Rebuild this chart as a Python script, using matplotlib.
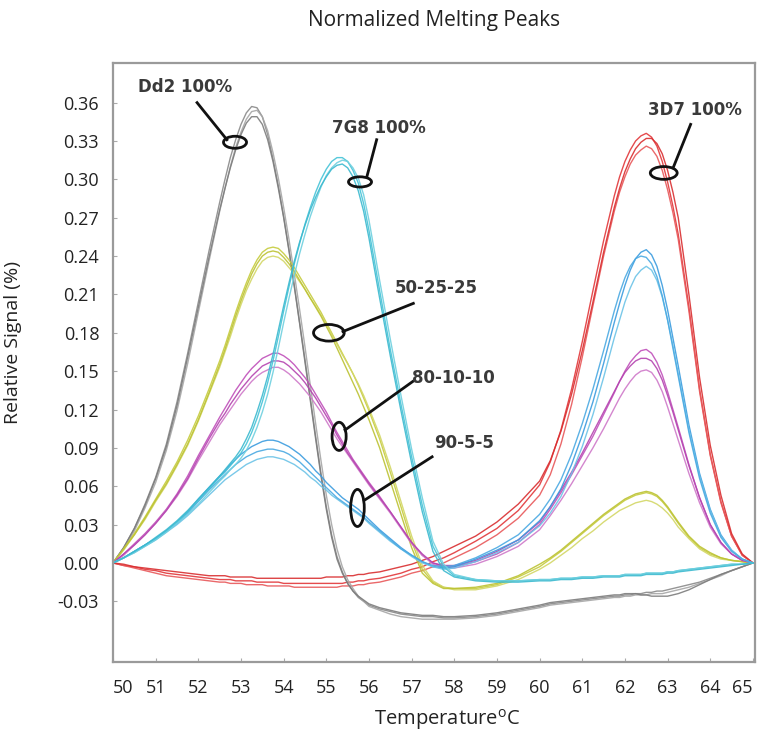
import numpy as np
import matplotlib
matplotlib.use("Agg")
import matplotlib.pyplot as plt
from matplotlib.patches import Ellipse

plt.rcParams['font.family'] = ['Open Sans', 'DejaVu Sans']
plt.rcParams['mathtext.fontset'] = 'custom'
plt.rcParams['mathtext.rm'] = 'Open Sans'

# temperature grid (deg C): finer steps around the narrow peaks
temps = np.r_[np.arange(50, 52.5, 0.25), np.arange(52.5, 56, 0.125), np.arange(56, 58, 0.25),
              np.arange(58, 60, 0.5), np.arange(60, 61.75, 0.25), np.arange(61.75, 63.25, 0.125),
              np.arange(63.25, 65.01, 0.25)]

# Dd2 100% (gray)
dd2_a = [0.000, 0.012, 0.027, 0.046, 0.067, 0.093, 0.126, 0.164, 0.204, 0.244,
         0.282, 0.300, 0.317, 0.331, 0.343, 0.352, 0.357, 0.356, 0.349, 0.335, 0.316, 0.295, 0.271, 0.245,
         0.217, 0.188, 0.159, 0.129, 0.099, 0.070, 0.044, 0.022, 0.005, -0.007, -0.016, -0.022, -0.027, -0.030,
         -0.033, -0.036, -0.038, -0.040, -0.041, -0.042, -0.042, -0.043,
         -0.043, -0.042, -0.040, -0.037,
         -0.034, -0.032, -0.031, -0.030, -0.029, -0.028, -0.027,
         -0.026, -0.026, -0.025, -0.025, -0.024, -0.024, -0.023, -0.023, -0.022, -0.022, -0.021, -0.020,
         -0.019, -0.017, -0.015, -0.012, -0.009, -0.006, -0.003, 0.000]
dd2_b = [0.000, 0.011, 0.025, 0.043, 0.063, 0.088, 0.119, 0.156, 0.196, 0.236,
         0.275, 0.293, 0.310, 0.325, 0.337, 0.347, 0.353, 0.354, 0.349, 0.338, 0.321, 0.301, 0.278, 0.253,
         0.226, 0.198, 0.169, 0.139, 0.109, 0.080, 0.053, 0.030, 0.011, -0.003, -0.013, -0.020, -0.026, -0.030,
         -0.034, -0.037, -0.040, -0.042, -0.043, -0.044, -0.044, -0.044,
         -0.044, -0.043, -0.041, -0.038,
         -0.035, -0.033, -0.032, -0.031, -0.030, -0.029, -0.028,
         -0.027, -0.027, -0.026, -0.026, -0.025, -0.025, -0.025, -0.024, -0.024, -0.024, -0.023, -0.022,
         -0.021, -0.019, -0.016, -0.013, -0.010, -0.006, -0.003, 0.000]
dd2_c = [0.000, 0.012, 0.027, 0.045, 0.066, 0.091, 0.123, 0.161, 0.200, 0.239,
         0.276, 0.293, 0.309, 0.323, 0.335, 0.344, 0.349, 0.349, 0.343, 0.331, 0.314, 0.293, 0.270, 0.244,
         0.216, 0.187, 0.157, 0.127, 0.097, 0.068, 0.042, 0.020, 0.003, -0.008, -0.016, -0.022, -0.026, -0.029,
         -0.032, -0.035, -0.037, -0.039, -0.040, -0.041, -0.041, -0.042,
         -0.042, -0.041, -0.039, -0.036,
         -0.033, -0.031, -0.030, -0.029, -0.028, -0.027, -0.026,
         -0.025, -0.025, -0.024, -0.024, -0.024, -0.025, -0.025, -0.026, -0.026, -0.026, -0.026, -0.025,
         -0.024, -0.021, -0.017, -0.013, -0.009, -0.006, -0.003, 0.000]

# 7G8 100% (cyan)
g78_a = [0.000, 0.004, 0.009, 0.014, 0.019, 0.025, 0.032, 0.040, 0.049, 0.058,
         0.067, 0.071, 0.076, 0.081, 0.086, 0.093, 0.102, 0.113, 0.126, 0.141, 0.158, 0.177, 0.197, 0.216,
         0.234, 0.250, 0.265, 0.278, 0.290, 0.300, 0.308, 0.314, 0.317, 0.317, 0.314, 0.307, 0.297, 0.281,
         0.260, 0.213, 0.167, 0.124, 0.083, 0.045, 0.013, -0.003,
         -0.010, -0.013, -0.014, -0.014,
         -0.013, -0.013, -0.012, -0.012, -0.011, -0.011, -0.010,
         -0.010, -0.010, -0.009, -0.009, -0.009, -0.009, -0.008, -0.008, -0.008, -0.008, -0.007, -0.007,
         -0.006, -0.005, -0.004, -0.003, -0.002, -0.001, -0.001, 0.000]
g78_b = [0.000, 0.004, 0.008, 0.013, 0.018, 0.024, 0.031, 0.038, 0.046, 0.055,
         0.064, 0.068, 0.073, 0.077, 0.082, 0.088, 0.096, 0.106, 0.118, 0.132, 0.149, 0.168, 0.188, 0.207,
         0.225, 0.242, 0.257, 0.271, 0.283, 0.294, 0.303, 0.309, 0.313, 0.315, 0.314, 0.309, 0.301, 0.288,
         0.268, 0.221, 0.175, 0.131, 0.089, 0.051, 0.017, -0.001,
         -0.009, -0.013, -0.014, -0.014,
         -0.013, -0.013, -0.012, -0.012, -0.011, -0.011, -0.010,
         -0.010, -0.010, -0.009, -0.009, -0.009, -0.009, -0.008, -0.008, -0.008, -0.008, -0.007, -0.007,
         -0.006, -0.005, -0.004, -0.003, -0.002, -0.001, -0.001, 0.000]
g78_c = [0.000, 0.004, 0.009, 0.014, 0.020, 0.026, 0.033, 0.041, 0.050, 0.059,
         0.068, 0.073, 0.078, 0.083, 0.089, 0.097, 0.106, 0.118, 0.131, 0.146, 0.163, 0.182, 0.201, 0.219,
         0.236, 0.251, 0.264, 0.276, 0.286, 0.295, 0.302, 0.308, 0.311, 0.312, 0.309, 0.302, 0.291, 0.275,
         0.254, 0.207, 0.162, 0.119, 0.078, 0.040, 0.009, -0.006,
         -0.011, -0.014, -0.015, -0.015,
         -0.014, -0.014, -0.013, -0.013, -0.012, -0.012, -0.011,
         -0.011, -0.011, -0.010, -0.010, -0.010, -0.010, -0.009, -0.009, -0.009, -0.009, -0.008, -0.008,
         -0.007, -0.006, -0.005, -0.004, -0.003, -0.002, -0.001, 0.000]

# 3D7 100% (red)
d37_a = [0.000, -0.002, -0.003, -0.005, -0.006, -0.008, -0.009, -0.010, -0.011, -0.012,
         -0.013, -0.013, -0.013, -0.014, -0.014, -0.014, -0.014, -0.015, -0.015, -0.015, -0.015, -0.015, -0.016, -0.016,
         -0.016, -0.016, -0.016, -0.016, -0.016, -0.016, -0.016, -0.016, -0.016, -0.016, -0.015, -0.015, -0.014, -0.014,
         -0.013, -0.012, -0.010, -0.008, -0.005, -0.003, 0.001, 0.004,
         0.008, 0.017, 0.027, 0.041,
         0.061, 0.079, 0.104, 0.136, 0.173, 0.213, 0.252,
         0.287, 0.302, 0.314, 0.323, 0.330, 0.334, 0.336, 0.333, 0.326, 0.314, 0.298, 0.279,
         0.257, 0.200, 0.136, 0.085, 0.048, 0.021, 0.006, 0.000]
d37_b = [0.000, -0.002, -0.004, -0.006, -0.008, -0.010, -0.011, -0.012, -0.013, -0.014,
         -0.015, -0.015, -0.016, -0.016, -0.016, -0.017, -0.017, -0.017, -0.017, -0.018, -0.018, -0.018, -0.018, -0.018,
         -0.019, -0.019, -0.019, -0.019, -0.019, -0.019, -0.019, -0.019, -0.019, -0.018, -0.018, -0.018, -0.017, -0.017,
         -0.016, -0.015, -0.013, -0.011, -0.008, -0.006, -0.003, 0.000,
         0.004, 0.012, 0.022, 0.035,
         0.053, 0.069, 0.093, 0.124, 0.161, 0.201, 0.240,
         0.275, 0.290, 0.302, 0.312, 0.319, 0.323, 0.326, 0.324, 0.318, 0.307, 0.292, 0.274,
         0.253, 0.197, 0.134, 0.084, 0.047, 0.021, 0.006, 0.000]
d37_c = [0.000, -0.001, -0.003, -0.004, -0.005, -0.006, -0.007, -0.008, -0.009, -0.010,
         -0.010, -0.010, -0.011, -0.011, -0.011, -0.011, -0.011, -0.012, -0.012, -0.012, -0.012, -0.012, -0.012, -0.012,
         -0.012, -0.012, -0.012, -0.012, -0.012, -0.012, -0.011, -0.011, -0.011, -0.011, -0.010, -0.010, -0.009, -0.009,
         -0.008, -0.007, -0.005, -0.003, -0.001, 0.002, 0.005, 0.009,
         0.013, 0.021, 0.032, 0.046,
         0.064, 0.080, 0.103, 0.132, 0.166, 0.204, 0.243,
         0.278, 0.293, 0.306, 0.316, 0.324, 0.329, 0.332, 0.332, 0.328, 0.320, 0.307, 0.290,
         0.270, 0.210, 0.145, 0.092, 0.053, 0.023, 0.007, 0.000]

# 50-25-25 (yellow)
mix50_a = [0.000, 0.011, 0.023, 0.036, 0.050, 0.064, 0.079, 0.096, 0.115, 0.136,
           0.158, 0.170, 0.183, 0.196, 0.208, 0.219, 0.229, 0.237, 0.243, 0.246, 0.247, 0.246, 0.242, 0.237,
           0.231, 0.224, 0.217, 0.210, 0.203, 0.196, 0.188, 0.180, 0.172, 0.164, 0.156, 0.148, 0.139, 0.129,
           0.119, 0.097, 0.071, 0.044, 0.017, -0.005, -0.015, -0.019,
           -0.020, -0.020, -0.017, -0.011,
           -0.003, 0.003, 0.009, 0.016, 0.023, 0.030, 0.037,
           0.043, 0.046, 0.049, 0.051, 0.053, 0.054, 0.055, 0.054, 0.052, 0.048, 0.043, 0.037,
           0.031, 0.020, 0.012, 0.007, 0.004, 0.002, 0.001, 0.000]
mix50_b = [0.000, 0.010, 0.022, 0.034, 0.048, 0.061, 0.076, 0.092, 0.111, 0.132,
           0.153, 0.165, 0.177, 0.190, 0.202, 0.213, 0.222, 0.230, 0.236, 0.239, 0.240, 0.239, 0.236, 0.231,
           0.226, 0.220, 0.214, 0.207, 0.201, 0.194, 0.187, 0.179, 0.171, 0.163, 0.156, 0.148, 0.140, 0.131,
           0.121, 0.100, 0.075, 0.048, 0.021, -0.002, -0.014, -0.019,
           -0.021, -0.021, -0.018, -0.013,
           -0.005, 0.000, 0.006, 0.012, 0.019, 0.025, 0.032,
           0.038, 0.041, 0.043, 0.045, 0.047, 0.048, 0.049, 0.048, 0.046, 0.043, 0.039, 0.034,
           0.028, 0.019, 0.011, 0.006, 0.003, 0.002, 0.001, 0.000]
mix50_c = [0.000, 0.011, 0.022, 0.035, 0.049, 0.062, 0.077, 0.093, 0.112, 0.133,
           0.155, 0.167, 0.180, 0.193, 0.205, 0.216, 0.226, 0.234, 0.240, 0.243, 0.244, 0.243, 0.239, 0.234,
           0.228, 0.221, 0.214, 0.207, 0.200, 0.193, 0.185, 0.177, 0.168, 0.159, 0.150, 0.141, 0.132, 0.122,
           0.112, 0.090, 0.064, 0.038, 0.012, -0.008, -0.016, -0.020,
           -0.020, -0.019, -0.016, -0.010,
           -0.001, 0.004, 0.010, 0.017, 0.024, 0.031, 0.038,
           0.044, 0.047, 0.050, 0.052, 0.054, 0.055, 0.056, 0.055, 0.053, 0.049, 0.044, 0.038,
           0.032, 0.021, 0.013, 0.008, 0.004, 0.002, 0.001, 0.000]

# 80-10-10 (magenta)
mix80_a = [0.000, 0.007, 0.015, 0.023, 0.032, 0.042, 0.054, 0.068, 0.084, 0.099,
           0.114, 0.121, 0.128, 0.135, 0.141, 0.147, 0.152, 0.156, 0.160, 0.162, 0.164, 0.164, 0.162, 0.159,
           0.155, 0.150, 0.145, 0.139, 0.132, 0.125, 0.118, 0.110, 0.102, 0.095, 0.088, 0.081, 0.075, 0.069,
           0.063, 0.052, 0.040, 0.028, 0.016, 0.006, 0.000, -0.003,
           -0.003, 0.001, 0.007, 0.016,
           0.030, 0.042, 0.055, 0.069, 0.084, 0.099, 0.116,
           0.133, 0.142, 0.150, 0.157, 0.162, 0.166, 0.167, 0.164, 0.157, 0.147, 0.134, 0.120,
           0.106, 0.077, 0.051, 0.030, 0.016, 0.007, 0.002, 0.000]
mix80_b = [0.000, 0.006, 0.014, 0.022, 0.031, 0.041, 0.052, 0.065, 0.080, 0.094,
           0.108, 0.114, 0.120, 0.126, 0.132, 0.137, 0.142, 0.146, 0.149, 0.151, 0.153, 0.153, 0.151, 0.148,
           0.144, 0.140, 0.135, 0.130, 0.124, 0.118, 0.111, 0.104, 0.097, 0.091, 0.085, 0.079, 0.073, 0.067,
           0.061, 0.050, 0.039, 0.027, 0.015, 0.006, -0.001, -0.004,
           -0.004, -0.001, 0.005, 0.013,
           0.026, 0.037, 0.049, 0.062, 0.076, 0.090, 0.105,
           0.121, 0.129, 0.136, 0.142, 0.147, 0.150, 0.151, 0.149, 0.143, 0.134, 0.122, 0.109,
           0.096, 0.070, 0.047, 0.028, 0.015, 0.007, 0.002, 0.000]
mix80_c = [0.000, 0.007, 0.014, 0.022, 0.031, 0.041, 0.053, 0.066, 0.082, 0.097,
           0.111, 0.117, 0.124, 0.130, 0.136, 0.141, 0.146, 0.150, 0.154, 0.156, 0.158, 0.158, 0.157, 0.154,
           0.150, 0.146, 0.141, 0.135, 0.129, 0.122, 0.115, 0.108, 0.100, 0.093, 0.086, 0.080, 0.074, 0.068,
           0.062, 0.051, 0.040, 0.028, 0.016, 0.007, 0.000, -0.002,
           -0.002, 0.002, 0.009, 0.018,
           0.032, 0.044, 0.057, 0.071, 0.086, 0.102, 0.118,
           0.134, 0.142, 0.149, 0.154, 0.158, 0.160, 0.160, 0.158, 0.152, 0.143, 0.131, 0.118,
           0.104, 0.076, 0.051, 0.030, 0.016, 0.007, 0.002, 0.000]

# 90-5-5 (blue)
mix90_a = [0.000, 0.004, 0.009, 0.014, 0.019, 0.025, 0.032, 0.040, 0.050, 0.059,
           0.068, 0.072, 0.077, 0.081, 0.085, 0.088, 0.091, 0.093, 0.095, 0.096, 0.096, 0.095, 0.093, 0.091,
           0.088, 0.085, 0.081, 0.077, 0.072, 0.068, 0.063, 0.059, 0.055, 0.051, 0.048, 0.045, 0.042, 0.038,
           0.034, 0.026, 0.019, 0.012, 0.006, 0.001, -0.003, -0.004,
           -0.003, 0.003, 0.010, 0.018,
           0.033, 0.044, 0.058, 0.077, 0.100, 0.126, 0.156,
           0.188, 0.203, 0.217, 0.229, 0.238, 0.243, 0.245, 0.241, 0.232, 0.217, 0.198, 0.176,
           0.154, 0.108, 0.070, 0.042, 0.022, 0.010, 0.003, 0.000]
mix90_b = [0.000, 0.004, 0.008, 0.013, 0.018, 0.024, 0.030, 0.037, 0.045, 0.053,
           0.061, 0.065, 0.068, 0.071, 0.074, 0.077, 0.079, 0.081, 0.082, 0.083, 0.083, 0.082, 0.081, 0.079,
           0.077, 0.074, 0.071, 0.067, 0.064, 0.060, 0.057, 0.053, 0.050, 0.047, 0.044, 0.041, 0.038, 0.035,
           0.031, 0.024, 0.017, 0.011, 0.005, 0.000, -0.003, -0.005,
           -0.004, 0.001, 0.008, 0.016,
           0.029, 0.039, 0.052, 0.070, 0.091, 0.116, 0.145,
           0.176, 0.190, 0.204, 0.215, 0.224, 0.229, 0.232, 0.229, 0.221, 0.208, 0.190, 0.170,
           0.148, 0.104, 0.068, 0.041, 0.021, 0.010, 0.003, 0.000]
mix90_c = [0.000, 0.004, 0.009, 0.014, 0.019, 0.025, 0.031, 0.039, 0.048, 0.057,
           0.065, 0.069, 0.073, 0.077, 0.080, 0.083, 0.085, 0.087, 0.088, 0.089, 0.089, 0.088, 0.087, 0.085,
           0.082, 0.079, 0.075, 0.071, 0.067, 0.063, 0.059, 0.055, 0.051, 0.048, 0.045, 0.042, 0.039, 0.036,
           0.032, 0.025, 0.018, 0.011, 0.006, 0.001, -0.002, -0.003,
           -0.002, 0.004, 0.012, 0.022,
           0.038, 0.050, 0.065, 0.085, 0.109, 0.136, 0.166,
           0.197, 0.211, 0.223, 0.232, 0.238, 0.240, 0.239, 0.234, 0.224, 0.209, 0.190, 0.168,
           0.146, 0.102, 0.066, 0.039, 0.020, 0.009, 0.003, 0.000]

groups = [
    ([d37_a, d37_b, d37_c], ['#e2373a', '#e8585a', '#d92e30']),
    ([dd2_a, dd2_b, dd2_c], ['#8a8a8a', '#a6a6a6', '#7c7c7c']),
    ([mix50_a, mix50_b, mix50_c], ['#c6cc3e', '#d3d766', '#bcc232']),
    ([mix80_a, mix80_b, mix80_c], ['#c050ba', '#cf79c9', '#b544b0']),
    ([mix90_a, mix90_b, mix90_c], ['#3b9cdf', '#6cc3e7', '#4aa9e2']),
    ([g78_a, g78_b, g78_c], ['#45c3d7', '#6fd0df', '#3bb9cf']),
]

# labels: text, text position, ellipse centre, ellipse size, leader line ends
annotations = [
    ("Dd2 100%", (50.59, 0.372), (52.86, 0.329), (0.54, 0.0094), ((51.97, 0.360), (52.67, 0.331))),
    ("7G8 100%", (55.13, 0.340), (55.79, 0.298), (0.54, 0.0080), ((56.18, 0.331), (55.95, 0.302))),
    ("3D7 100%", (62.54, 0.354), (62.91, 0.305), (0.63, 0.0100), ((63.54, 0.343), (63.13, 0.309))),
    ("50-25-25", (56.61, 0.215), (55.06, 0.180), (0.72, 0.0130), ((55.39, 0.181), (57.04, 0.203))),
    ("80-10-10", (57.01, 0.145), (55.30, 0.099), (0.33, 0.0220), ((55.44, 0.104), (57.03, 0.142))),
    ("90-5-5", (57.52, 0.094), (55.73, 0.043), (0.32, 0.0290), ((55.89, 0.049), (57.48, 0.083))),
]

fig = plt.figure(figsize=(7.57, 7.36), dpi=100)
ax = fig.add_axes([0.1493, 0.1005, 0.8481, 0.8139])

for curves, colors in groups:
    for vals, col in zip(curves, colors):
        ax.plot(temps, vals, color=col, lw=1.0, alpha=0.9)

for text, tpos, center, size, line in annotations:
    ax.add_patch(Ellipse(center, size[0], size[1], fill=False, ec='#111111', lw=2.0, zorder=5))
    ax.plot([line[0][0], line[1][0]], [line[0][1], line[1][1]], color='#111111', lw=2.0, zorder=5)
    ax.text(tpos[0], tpos[1], text, ha='left', va='center', fontsize=12, fontweight='bold',
            family=['DejaVu Sans'], color='#3a3a3a', zorder=6)

ax.set_xlim(50, 65.05)
ax.set_ylim(-0.0775, 0.391)
ax.set_xticks(np.arange(50, 66, 1))
ax.set_yticks([0.36, 0.33, 0.30, 0.27, 0.24, 0.21, 0.18, 0.15, 0.12, 0.09, 0.06, 0.03, 0.00, -0.03])
ax.yaxis.set_major_formatter(matplotlib.ticker.FormatStrFormatter('%.2f'))
ax.tick_params(direction='in', length=3, width=0.8, color='#aaaaaa', labelsize=13, labelcolor='#222222')
ax.tick_params(axis='x', pad=12)
ax.tick_params(axis='y', pad=10)
xt = ax.xaxis.get_major_ticks()
xt[0].label1.set_horizontalalignment('left')
xt[-1].label1.set_horizontalalignment('right')
for sp in ax.spines.values():
    sp.set_color('#9a9a9a')
    sp.set_linewidth(1.6)

ax.set_ylabel('Relative Signal (%)', fontsize=14, color='#222222')
ax.yaxis.set_label_coords(-0.142, 0.534)
ax.set_xlabel(r'Temperature$^{\mathrm{o}}$C', fontsize=14.5, color='#222222')
ax.xaxis.set_label_coords(0.52, -0.075)
ax.set_title('Normalized Melting Peaks', fontsize=15, color='#222222', pad=27)

fig.savefig('out.png', dpi=100)
